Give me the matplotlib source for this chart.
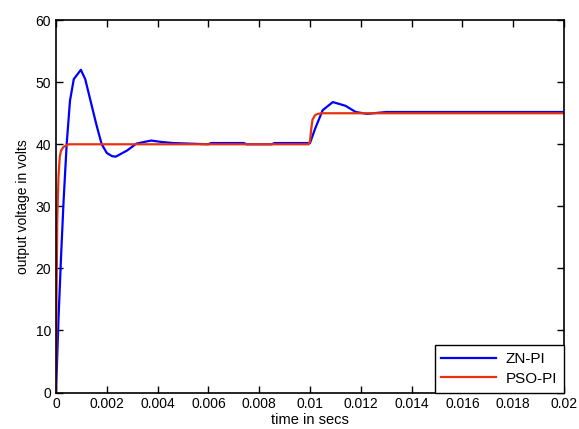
import matplotlib
matplotlib.use('Agg')
import matplotlib.pyplot as plt

plt.rcParams['font.family'] = ['Liberation Sans', 'DejaVu Sans']

# ZN-PI response
zn_t = [0, 0.00005, 0.0001, 0.0002, 0.0003, 0.00042, 0.00055, 0.0007, 0.00098,
        0.00115, 0.0013, 0.00148, 0.0016, 0.0018, 0.002, 0.0022, 0.00235,
        0.0028, 0.00316, 0.0035, 0.00375, 0.0041, 0.0046, 0.0060, 0.0061,
        0.0074, 0.0075, 0.0085, 0.0086, 0.01, 0.0102, 0.0105, 0.0109,
        0.0114, 0.0118, 0.01225, 0.0130, 0.02]
zn_v = [0, 6, 12, 22, 31, 40, 47, 50.5, 52,
        50.5, 48, 45, 43, 40, 38.6, 38.1, 38,
        39, 40.1, 40.4, 40.6, 40.4, 40.2, 40.0, 40.2,
        40.2, 40.0, 40.0, 40.2, 40.2, 42.5, 45.5, 46.8,
        46.2, 45.2, 44.9, 45.2, 45.2]

# PSO-PI response
pso_t = [0, 0.00002, 0.00005, 0.0001, 0.00015, 0.0002, 0.0003, 0.0005,
         0.00995, 0.01, 0.01005, 0.0101, 0.0102, 0.0103, 0.0105, 0.02]
pso_v = [0, 15, 28, 35, 38, 39, 39.6, 40,
         40, 40.5, 42.5, 44, 44.7, 44.9, 45, 45]

xticks = [0, 0.002, 0.004, 0.006, 0.008, 0.01, 0.012, 0.014, 0.016, 0.018, 0.02]
xlabels = ['0', '0.002', '0.004', '0.006', '0.008', '0.01', '0.012', '0.014',
           '0.016', '0.018', '0.02']
yticks = [0, 10, 20, 30, 40, 50, 60]

fig = plt.figure(figsize=(5.79, 4.29), dpi=100)
ax = fig.add_axes([56/579, 0.085, 508/579, 0.868])

ax.plot(zn_t, zn_v, color='#0000ff', lw=1.6, label='ZN-PI')
ax.plot(pso_t, pso_v, color='#e8320f', lw=1.6, label='PSO-PI')

ax.set_xlim(0, 0.02)
ax.set_ylim(0, 60)
ax.set_xticks(xticks)
ax.set_xticklabels(xlabels)
ax.set_yticks(yticks)
ax.tick_params(direction='in', top=True, right=True, labelsize=10, length=5, width=1)
for s in ax.spines.values():
    s.set_linewidth(1.2)

ax.set_xlabel('time in secs', fontsize=10.5, labelpad=1)
ax.set_ylabel('output voltage in volts', fontsize=10)

leg = ax.legend(loc='lower right', fontsize=11, fancybox=False, framealpha=1,
                borderaxespad=0, handlelength=3.6, borderpad=0.45,
                labelspacing=0.35, handletextpad=0.6, edgecolor='black')
leg.get_frame().set_linewidth(1.0)

fig.savefig('out.png', dpi=100)
